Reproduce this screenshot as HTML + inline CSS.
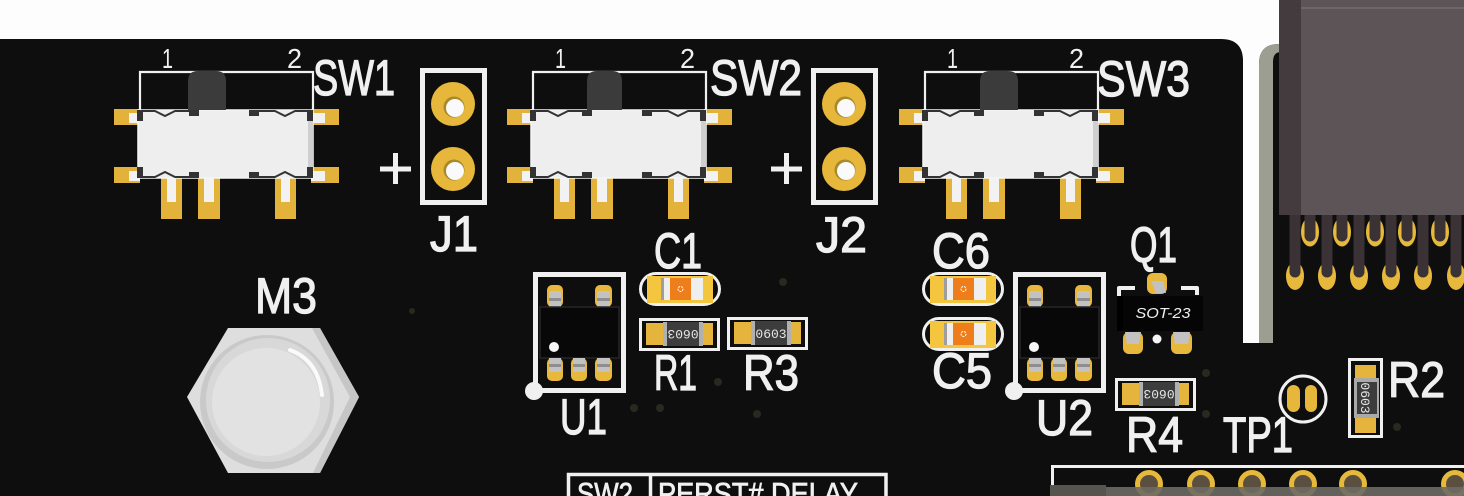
<!DOCTYPE html>
<html><head><meta charset="utf-8"><style>
html,body{margin:0;padding:0;background:#fdfdfd;}
svg{display:block}
text{font-family:"Liberation Sans",sans-serif;fill:#f0f0f0}
.lbl text{stroke:#f0f0f0;stroke-width:1.3}
.m{font-family:"Liberation Mono",monospace;fill:#e6e6e6;font-size:13px}
</style></head><body>
<svg width="1464" height="496" viewBox="0 0 1464 496" xmlns="http://www.w3.org/2000/svg">
<defs>
 <g id="sw">
  <rect x="114" y="109" width="26" height="16" fill="#e2b23a"/>
  <rect x="114" y="167" width="26" height="16" fill="#e2b23a"/>
  <rect x="311" y="109" width="28" height="16" fill="#e2b23a"/>
  <rect x="311" y="167" width="28" height="16" fill="#e2b23a"/>
  <rect x="129" y="113" width="11" height="10" fill="#f2f2f2"/>
  <rect x="129" y="171" width="11" height="10" fill="#f2f2f2"/>
  <rect x="311" y="113" width="14" height="10" fill="#f2f2f2"/>
  <rect x="311" y="171" width="14" height="10" fill="#f2f2f2"/>
  <rect x="161" y="178" width="21" height="41" fill="#e2b23a"/>
  <rect x="198" y="178" width="22" height="41" fill="#e2b23a"/>
  <rect x="275" y="178" width="21" height="41" fill="#e2b23a"/>
  <rect x="167" y="178" width="9" height="24" fill="#f2f2f2"/>
  <rect x="204" y="178" width="10" height="24" fill="#f2f2f2"/>
  <rect x="281" y="178" width="9" height="24" fill="#f2f2f2"/>
  <rect x="138" y="110" width="175" height="68" fill="#eeeeee" stroke="#f6f6f6" stroke-width="1.5"/>
  <rect x="308" y="112" width="5" height="64" fill="#cfcfcf"/>
  <rect x="137" y="110" width="6" height="11" fill="#333"/>
  <rect x="307" y="110" width="6" height="11" fill="#333"/>
  <rect x="137" y="167" width="6" height="11" fill="#333"/>
  <rect x="307" y="167" width="6" height="11" fill="#333"/>
  <rect x="189" y="110" width="10" height="6" fill="#333"/>
  <rect x="249" y="110" width="10" height="6" fill="#333"/>
  <rect x="189" y="172" width="10" height="6" fill="#333"/>
  <rect x="249" y="172" width="10" height="6" fill="#333"/>
  <polyline points="143,111 155,111 165,116 175,111 189,111" fill="none" stroke="#333" stroke-width="2"/>
  <polyline points="259,111 275,111 285,116 295,111 307,111" fill="none" stroke="#333" stroke-width="2"/>
  <polyline points="143,177 155,177 165,172 175,177 189,177" fill="none" stroke="#333" stroke-width="2"/>
  <polyline points="259,177 275,177 285,172 295,177 307,177" fill="none" stroke="#333" stroke-width="2"/>
  <polyline points="140,110 140,72 313,72 313,110" fill="none" stroke="#f0f0f0" stroke-width="2.2"/>
 </g>
 <g id="jp">
  <rect x="422.5" y="70.5" width="62" height="132" fill="none" stroke="#f0f0f0" stroke-width="5"/>
  <circle cx="453" cy="104" r="22" fill="#e6b73a"/>
  <circle cx="454" cy="107" r="10.5" fill="#a8892c"/>
  <circle cx="455" cy="108" r="9" fill="#fafafa"/>
  <circle cx="453" cy="169" r="22" fill="#e6b73a"/>
  <circle cx="454" cy="170" r="10.5" fill="#a8892c"/>
  <circle cx="455" cy="171" r="9" fill="#fafafa"/>
  <path d="M380,169 H411 M395.5,153 V184" stroke="#f0f0f0" stroke-width="5"/>
 </g>
 <g id="cap">
  <rect x="1.5" y="1.5" width="79" height="31" rx="15.5" fill="none" stroke="#f0f0f0" stroke-width="3"/>
  <rect x="8" y="4" width="66" height="27" fill="#f4c53e"/>
  <rect x="22" y="6" width="42" height="22" fill="#efefef"/>
  <rect x="22" y="6" width="3" height="22" fill="#9e9e9e"/>
  <rect x="31" y="6" width="21" height="22" fill="#ee7d1c"/>
  <circle cx="41.5" cy="17" r="2.5" fill="none" stroke="#fff" stroke-width="1" stroke-dasharray="2 1"/>
 </g>
 <g id="res">
  <rect x="1.5" y="1.5" width="78" height="30" fill="none" stroke="#f0f0f0" stroke-width="3"/>
  <rect x="7" y="5" width="67" height="22" fill="#e4b43c"/>
  <rect x="24" y="4" width="40" height="24" fill="#3d3d3d"/>
  <rect x="24" y="4" width="4" height="24" fill="#b0b0b0"/>
  <rect x="60" y="4" width="4" height="24" fill="#b0b0b0"/>
 </g>
 <g id="ic">
  <rect x="535.5" y="274.5" width="88" height="116" fill="none" stroke="#f0f0f0" stroke-width="5"/>
  <circle cx="534" cy="391" r="9" fill="#f0f0f0"/>
  <rect x="547" y="285" width="16" height="22" rx="5" fill="#e8b83c"/>
  <rect x="595" y="285" width="17" height="22" rx="5" fill="#e8b83c"/>
  <rect x="549" y="291" width="12" height="16" fill="#c2c2c2"/>
  <rect x="597" y="291" width="13" height="16" fill="#c2c2c2"/>
  <rect x="549" y="298" width="12" height="3" fill="#8e8e8e"/>
  <rect x="597" y="298" width="13" height="3" fill="#8e8e8e"/>
  <rect x="540" y="307" width="79" height="51" fill="#080808" stroke="#262626" stroke-width="1.5"/>
  <circle cx="554" cy="347" r="5" fill="#f6f6f6"/>
  <rect x="547" y="358" width="16" height="23" rx="5" fill="#e8b83c"/>
  <rect x="571" y="358" width="16" height="23" rx="5" fill="#e8b83c"/>
  <rect x="595" y="358" width="17" height="23" rx="5" fill="#e8b83c"/>
  <rect x="549" y="358" width="12" height="14" fill="#c2c2c2"/>
  <rect x="573" y="358" width="12" height="14" fill="#c2c2c2"/>
  <rect x="597" y="358" width="13" height="14" fill="#c2c2c2"/>
  <rect x="549" y="364" width="12" height="3" fill="#8e8e8e"/>
  <rect x="573" y="364" width="12" height="3" fill="#8e8e8e"/>
  <rect x="597" y="364" width="13" height="3" fill="#8e8e8e"/>
 </g>
</defs>

<rect width="1464" height="496" fill="#fdfdfd"/>
<path d="M0,39 H1221 Q1243,39 1243,61 V496 H0 Z" fill="#0e0e0e"/>
<path d="M1259,64 Q1259,44 1279,44 H1464 V496 H1259 Z" fill="#0e0e0e"/>
<rect x="1238" y="343" width="30" height="153" fill="#0e0e0e"/>
<path d="M1259,343 V64 Q1259,44 1279,44 H1281 V52 Q1273,52 1273,62 V343 Z" fill="#9d9e92"/>

<g fill="#2a2920">
 <circle cx="783" cy="282" r="4"/><circle cx="718" cy="382" r="4"/>
 <circle cx="634" cy="408" r="4"/><circle cx="660" cy="408" r="4"/>
 <circle cx="757" cy="414" r="4"/><circle cx="1206" cy="373" r="4"/>
 <circle cx="1206" cy="414" r="4"/><circle cx="1397" cy="427" r="4"/>
 <circle cx="412" cy="311" r="3"/>
</g>

<use href="#sw"/>
<use href="#sw" transform="translate(393,0)"/>
<use href="#sw" transform="translate(785,0)"/>
<path d="M188,110 V81 Q188,71 198,71 H216 Q226,71 226,81 V110 Z" fill="#3b3b3b"/>
<path d="M587,110 V81 Q587,71 597,71 H612 Q622,71 622,81 V110 Z" fill="#3b3b3b"/>
<path d="M980,110 V81 Q980,71 990,71 H1008 Q1018,71 1018,81 V110 Z" fill="#3b3b3b"/>

<use href="#jp"/>
<use href="#jp" transform="translate(391,0)"/>

<g font-size="28">
 <text x="162" y="68" textLength="11" lengthAdjust="spacingAndGlyphs">1</text>
 <text x="287" y="68" textLength="15" lengthAdjust="spacingAndGlyphs">2</text>
 <text x="555" y="68" textLength="11" lengthAdjust="spacingAndGlyphs">1</text>
 <text x="680" y="68" textLength="15" lengthAdjust="spacingAndGlyphs">2</text>
 <text x="947" y="68" textLength="11" lengthAdjust="spacingAndGlyphs">1</text>
 <text x="1069" y="68" textLength="15" lengthAdjust="spacingAndGlyphs">2</text>
</g>

<polygon points="228,328 320,328 359,397 320,473 228,473 187,397" fill="#dedede"/>
<polygon points="320,328 359,397 320,473 313,473 350,397 312,328" fill="#c6c6c6"/>
<circle cx="267" cy="402" r="67" fill="#c9c9c9"/>
<circle cx="268" cy="400" r="62" fill="#d8d8d8"/>
<circle cx="266" cy="402" r="54" fill="#e2e2e2"/>
<path d="M290,350 Q318,360 322,395" fill="none" stroke="#fafafa" stroke-width="4" stroke-linecap="round"/>

<use href="#cap" transform="translate(639,272)"/>
<use href="#cap" transform="translate(922,272)"/>
<use href="#cap" transform="translate(922,317)"/>
<use href="#res" transform="translate(639,318)"/>
<use href="#res" transform="translate(727,317)"/>
<use href="#res" transform="translate(1115,378)"/>
<text class="m" x="683" y="339" text-anchor="middle" transform="rotate(180 683 334.5)">0603</text>
<text class="m" x="771" y="338" text-anchor="middle">0603</text>
<text class="m" x="1159" y="399" text-anchor="middle" transform="rotate(180 1159 394.5)">0603</text>

<use href="#ic"/>
<use href="#ic" transform="translate(480,0)"/>

<path d="M1135,288 H1119 V322" fill="none" stroke="#f0f0f0" stroke-width="4" stroke-linejoin="round"/>
<path d="M1181,288 H1197 V295" fill="none" stroke="#f0f0f0" stroke-width="4" stroke-linejoin="round"/>
<rect x="1147" y="273" width="20" height="21" rx="6" fill="#e8b83c"/>
<polygon points="1151,281 1163,281 1166,293 1156,293" fill="#c2c2c2"/>
<rect x="1117" y="296" width="86" height="35" fill="#050505"/>
<rect x="1117" y="296" width="6" height="35" fill="#000"/>
<text x="1163" y="318" font-size="15" font-style="italic" text-anchor="middle" textLength="55" lengthAdjust="spacingAndGlyphs">SOT-23</text>
<rect x="1123" y="332" width="20" height="22" rx="6" fill="#e8b83c"/>
<rect x="1171" y="332" width="21" height="22" rx="6" fill="#e8b83c"/>
<polygon points="1125,332 1141,332 1139,344 1127,344" fill="#c2c2c2"/>
<polygon points="1173,332 1190,332 1188,344 1175,344" fill="#c2c2c2"/>
<circle cx="1157" cy="339" r="4.5" fill="#f6f6f6"/>

<circle cx="1303" cy="399" r="23" fill="none" stroke="#f0f0f0" stroke-width="3"/>
<rect x="1287" y="385" width="13" height="27" rx="6.5" fill="#e6b73a"/>
<rect x="1305" y="385" width="12" height="27" rx="6" fill="#e6b73a"/>

<rect x="1349.5" y="359.5" width="32" height="77" fill="none" stroke="#f0f0f0" stroke-width="3"/>
<rect x="1355" y="365" width="21" height="68" fill="#e4b43c"/>
<rect x="1354" y="378" width="25" height="40" fill="#a9a9a9"/>
<rect x="1357" y="382" width="20" height="32" fill="#3d3d3d"/>
<text class="m" x="1366" y="403" text-anchor="middle" font-size="12" transform="rotate(90 1366 398)">0603</text>

<g>
 <g fill="#e6b93c">
  <ellipse cx="1310" cy="232" rx="9" ry="14.5"/><ellipse cx="1342" cy="232" rx="9" ry="14.5"/>
  <ellipse cx="1375" cy="232" rx="9" ry="14.5"/><ellipse cx="1407" cy="232" rx="9" ry="14.5"/>
  <ellipse cx="1440" cy="232" rx="9" ry="14.5"/>
  <ellipse cx="1295" cy="276" rx="9" ry="14"/><ellipse cx="1327" cy="276" rx="9" ry="14"/>
  <ellipse cx="1359" cy="276" rx="9" ry="14"/><ellipse cx="1391" cy="276" rx="9" ry="14"/>
  <ellipse cx="1423" cy="276" rx="9" ry="14"/><ellipse cx="1456" cy="276" rx="9" ry="14"/>
 </g>
 <g fill="#3a3235">
  <rect x="1304.5" y="212" width="11" height="24"/><circle cx="1310" cy="236" r="5.5"/>
  <rect x="1336.5" y="212" width="11" height="24"/><circle cx="1342" cy="236" r="5.5"/>
  <rect x="1369.5" y="212" width="11" height="24"/><circle cx="1375" cy="236" r="5.5"/>
  <rect x="1401.5" y="212" width="11" height="24"/><circle cx="1407" cy="236" r="5.5"/>
  <rect x="1434.5" y="212" width="11" height="24"/><circle cx="1440" cy="236" r="5.5"/>
  <rect x="1289.5" y="212" width="11" height="60"/><circle cx="1295" cy="272" r="5.5"/>
  <rect x="1321.5" y="212" width="11" height="60"/><circle cx="1327" cy="272" r="5.5"/>
  <rect x="1353.5" y="212" width="11" height="60"/><circle cx="1359" cy="272" r="5.5"/>
  <rect x="1385.5" y="212" width="11" height="60"/><circle cx="1391" cy="272" r="5.5"/>
  <rect x="1417.5" y="212" width="11" height="60"/><circle cx="1423" cy="272" r="5.5"/>
  <rect x="1450.5" y="212" width="11" height="60"/><circle cx="1456" cy="272" r="5.5"/>
 </g>
 <rect x="1279" y="0" width="185" height="215" fill="#5c5457"/>
 <rect x="1279" y="0" width="22" height="215" fill="#433b3e"/>
 <rect x="1301" y="7" width="163" height="2" fill="#6e6769"/>
</g>

<path d="M568.5,500 V474.5 H886 V500 M650.5,474.5 V500" fill="none" stroke="#f0f0f0" stroke-width="3.5"/>
<g class="lbl">
<text x="577" y="504" font-size="31" textLength="56" lengthAdjust="spacingAndGlyphs" style="stroke-width:0.8">SW2</text>
<text x="658" y="504" font-size="31" textLength="200" lengthAdjust="spacingAndGlyphs" style="stroke-width:0.8">PERST# DELAY</text>
</g>

<path d="M1052.5,500 V466.5 H1464" fill="none" stroke="#f0f0f0" stroke-width="3"/>
<g fill="#5b5040" stroke="#e6b93c" stroke-width="5">
 <circle cx="1149" cy="484" r="11.5"/><circle cx="1201" cy="484" r="11.5"/>
 <circle cx="1252" cy="484" r="11.5"/><circle cx="1303" cy="484" r="11.5"/>
 <circle cx="1353" cy="484" r="11.5"/><circle cx="1455" cy="484" r="11.5"/>
</g>
<rect x="1050" y="487" width="414" height="9" fill="#6b6a64" opacity="0.9"/>
<rect x="1050" y="485" width="56" height="11" fill="#55544f"/>

<g font-size="50" class="lbl">
 <text x="313" y="95" textLength="82" lengthAdjust="spacingAndGlyphs">SW1</text>
 <text x="710" y="95" textLength="92" lengthAdjust="spacingAndGlyphs">SW2</text>
 <text x="1097" y="96" textLength="93" lengthAdjust="spacingAndGlyphs">SW3</text>
 <text x="430" y="251" textLength="48" lengthAdjust="spacingAndGlyphs">J1</text>
 <text x="816" y="252" textLength="51" lengthAdjust="spacingAndGlyphs">J2</text>
 <text x="255" y="313" textLength="62" lengthAdjust="spacingAndGlyphs">M3</text>
 <text x="654" y="268" textLength="48" lengthAdjust="spacingAndGlyphs">C1</text>
 <text x="654" y="390" textLength="43" lengthAdjust="spacingAndGlyphs">R1</text>
 <text x="743" y="390" textLength="56" lengthAdjust="spacingAndGlyphs">R3</text>
 <text x="932" y="268" textLength="58" lengthAdjust="spacingAndGlyphs">C6</text>
 <text x="932" y="388" textLength="60" lengthAdjust="spacingAndGlyphs">C5</text>
 <text x="560" y="434" textLength="47" lengthAdjust="spacingAndGlyphs">U1</text>
 <text x="1036" y="435" textLength="57" lengthAdjust="spacingAndGlyphs">U2</text>
 <text x="1130" y="262" textLength="47" lengthAdjust="spacingAndGlyphs">Q1</text>
 <text x="1126" y="452" textLength="57" lengthAdjust="spacingAndGlyphs">R4</text>
 <text x="1223" y="452" textLength="70" lengthAdjust="spacingAndGlyphs">TP1</text>
 <text x="1388" y="397" textLength="57" lengthAdjust="spacingAndGlyphs">R2</text>
</g>
</svg>
</body></html>
